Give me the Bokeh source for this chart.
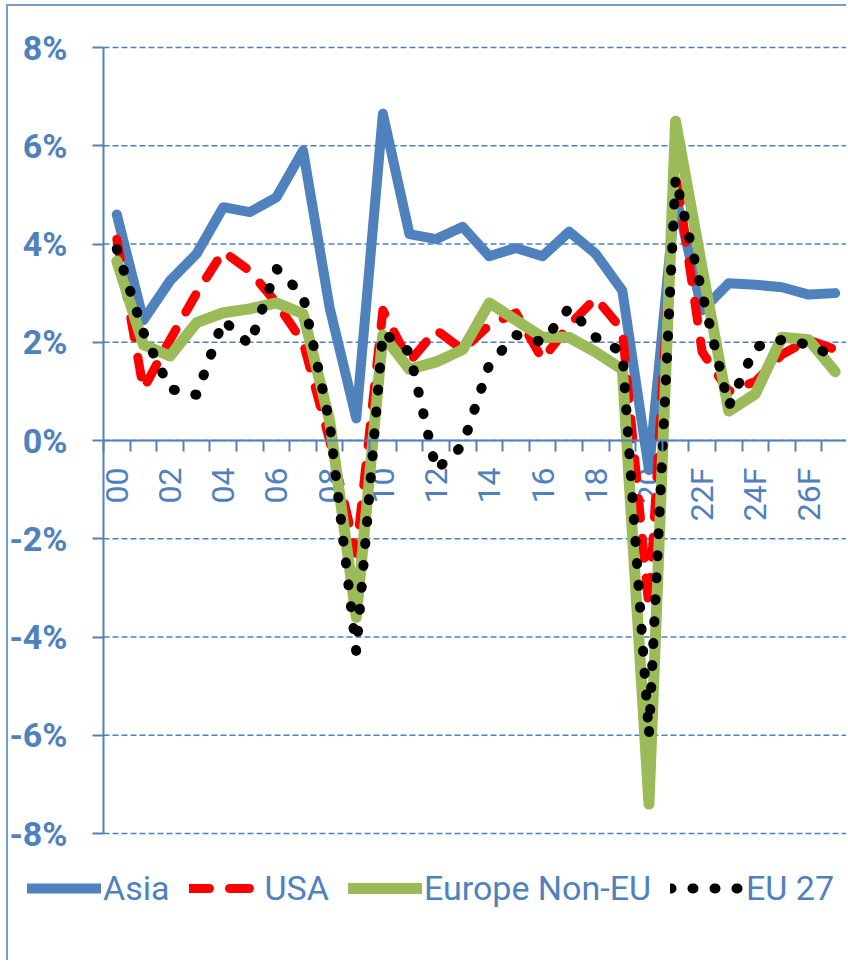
import math
from bokeh.plotting import figure
from bokeh.models import Range1d, FixedTicker, Legend, LegendItem
from bokeh.core.properties import value
from bokeh.embed import file_html
from bokeh.resources import INLINE

years = ["00", "01", "02", "03", "04", "05", "06", "07", "08", "09",
         "10", "11", "12", "13", "14", "15", "16", "17", "18", "19",
         "20", "21", "22F", "23F", "24F", "25F", "26F", "27F"]

asia = [4.6, 2.45, 3.25, 3.8, 4.75, 4.65, 4.95, 5.9, 2.7, 0.45,
        6.65, 4.2, 4.1, 4.35, 3.75, 3.92, 3.75, 4.25, 3.8, 3.05,
        -0.6, 5.0, 2.65, 3.2, 3.17, 3.12, 2.97, 3.0]

usa = [4.1, 1.05, 2.05, 3.0, 3.85, 3.45, 2.8, 2.0, 0.0, -2.3,
       2.65, 1.6, 2.25, 1.85, 2.35, 2.6, 1.65, 2.35, 2.9, 2.25,
       -3.4, 5.5, 1.8, 1.0, 1.2, 1.75, 2.05, 1.85]

europe_non_eu = [3.65, 1.95, 1.72, 2.4, 2.6, 2.68, 2.8, 2.58, 0.4, -3.6,
                 2.15, 1.45, 1.6, 1.85, 2.8, 2.45, 2.1, 2.1, 1.8, 1.45,
                 -7.4, 6.5, 3.5, 0.6, 0.95, 2.1, 2.05, 1.4]

eu27 = [3.9, 2.2, 1.05, 0.93, 2.45, 1.95, 3.5, 2.95, 0.35, -4.3,
        2.2, 1.8, -0.6, -0.1, 1.55, 2.15, 2.0, 2.7, 2.1, 1.8,
        -6.0, 5.35, 3.0, 0.7, 1.9, 2.05, 1.95, 1.7]

series_names = ["Asia", "USA", "Europe Non-EU", "EU 27"]
y_ticks = [-8, -6, -4, -2, 0, 2, 4, 6, 8]

BLUE = "#4F81BD"
RED = "#FF0000"
GREEN = "#9BBB59"
BLACK = "#000000"
BORDER = "#7A9CCB"

n = len(years)
x = list(range(n))

# ---- layout (pixels, relative to the figure's own origin) ----
OX, OY = 8, 6                   # figure origin on the page (margin + border)
W, H = 848 - OX, 962 - OY
PL, PB = 0, 14                  # frame border left / bottom
AXIS_X_PX = 103 - OX            # y axis position
Y_TOP_PX, Y_BOT_PX = 47 - OY, 833 - OY   # +8% and -8% positions
LEGEND_LEFT_PX, LEGEND_BOTTOM_PX = 27 - OX, 908 - OY

px_x = (W - AXIS_X_PX) / n
x_start = -0.5 - (AXIS_X_PX - PL) / px_x
px_y = (Y_BOT_PX - Y_TOP_PX) / (y_ticks[-1] - y_ticks[0])
y_end = y_ticks[-1] + Y_TOP_PX / px_y
y_start = y_ticks[0] - (H - PB - Y_BOT_PX) / px_y

p = figure(width=W, height=H, output_backend="svg", toolbar_location=None,
           x_range=Range1d(x_start, n - 0.5), y_range=Range1d(y_start, y_end),
           y_axis_location="right",
           min_border_left=PL, min_border_right=0, min_border_top=0,
           min_border_bottom=PB)
p.styles = {"margin-left": "6px", "margin-top": "4px",
            "border-left": f"2px solid {BORDER}",
            "border-top": f"2px solid {BORDER}"}
p.outline_line_color = None
p.background_fill_color = "white"
p.border_fill_color = "white"
p.xgrid.visible = False
p.ygrid.visible = False

# dashed horizontal gridlines from the y axis to the right end
p.segment(x0=[-0.5] * len(y_ticks), x1=[n - 0.5] * len(y_ticks),
          y0=y_ticks, y1=y_ticks, line_color=BLUE, line_width=1.5,
          line_dash="6 3")

# x axis crossing at 0, tick marks between categories
xa = p.xaxis[0]
xa.ticker = FixedTicker(ticks=[], minor_ticks=[i - 0.5 for i in range(n + 1)])
xa.fixed_location = 0
xa.bounds = (-0.5, n - 0.5)
xa.axis_line_color = BLUE
xa.axis_line_width = 2
xa.major_tick_out = 0
xa.major_tick_in = 0
xa.minor_tick_out = 11
xa.minor_tick_in = 0
xa.minor_tick_line_color = BLUE
xa.minor_tick_line_width = 2
xa.major_label_standoff = 0

# y axis (held in the right panel so it takes no room) drawn at the
# left of the categories; "in" ticks of a right axis point leftwards
ya = p.yaxis[0]
ya.ticker = FixedTicker(ticks=y_ticks, minor_ticks=[])
ya.major_label_overrides = {t: "" for t in y_ticks}
ya.fixed_location = -0.5
ya.bounds = (y_ticks[0], y_ticks[-1])
ya.axis_line_color = BLUE
ya.axis_line_width = 2
ya.major_tick_out = 0
ya.major_tick_in = 11
ya.minor_tick_out = 0
ya.minor_tick_in = 0
ya.major_tick_line_color = BLUE
ya.major_tick_line_width = 2
ya.major_label_standoff = 0

# tick labels
p.text(x=[-0.5] * len(y_ticks), y=y_ticks, text=[f"{t}%" for t in y_ticks],
       x_offset=-36, text_align="right", text_baseline="middle",
       text_font=value("Roboto"), text_font_style="bold",
       text_font_size="34px", text_color=BLUE)

label_idx = list(range(0, n, 2))
p.text(x=label_idx, y=[0] * len(label_idx), text=[years[i] for i in label_idx],
       angle=math.pi / 2, y_offset=27, text_align="right",
       text_baseline="middle", text_font=value("Roboto"),
       text_font_size="32px", text_color=BLUE)

r_asia = p.line(x, asia, line_color=BLUE, line_width=10,
                line_join="round", line_cap="round")
r_usa = p.line(x, usa, line_color=RED, line_width=9, line_dash="20 20",
               line_join="round", line_cap="round")
r_eur = p.line(x, europe_non_eu, line_color=GREEN, line_width=11,
               line_join="round", line_cap="round")
r_eu = p.line(x, eu27, line_color=BLACK, line_width=10, line_dash="1 21",
              line_join="round", line_cap="round")

legend = Legend(items=[LegendItem(label=series_names[0], renderers=[r_asia]),
                       LegendItem(label=series_names[1], renderers=[r_usa]),
                       LegendItem(label=series_names[2], renderers=[r_eur]),
                       LegendItem(label=series_names[3], renderers=[r_eu])],
                orientation="horizontal",
                location=(LEGEND_LEFT_PX - PL, (H - PB) - LEGEND_BOTTOM_PX),
                glyph_width=74, glyph_height=40, label_height=40,
                label_standoff=2, spacing=19, padding=0, margin=0,
                border_line_color=None, background_fill_alpha=0,
                label_text_font="Roboto", label_text_font_size="34px",
                label_text_color=BLUE)
p.add_layout(legend)

open("out.html", "w").write(file_html(p, INLINE))
